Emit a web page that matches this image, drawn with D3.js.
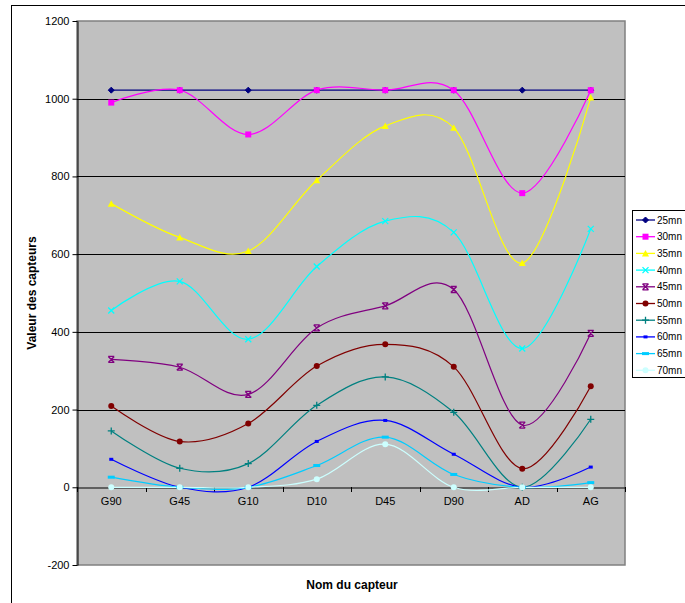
<!DOCTYPE html>
<html><head><meta charset="utf-8">
<script src="https://cdn.jsdelivr.net/npm/d3@7/dist/d3.min.js"></script>
<style>body{margin:0;background:#fff;}text{font-family:"Liberation Sans",Arial,sans-serif;}</style>
</head><body>
<svg id="c" width="685" height="603"></svg>
<script>
const categories = ["G90","G45","G10","D10","D45","D90","AD","AG"];
const seriesNames = ["25mn","30mn","35mn","40mn","45mn","50mn","55mn","60mn","65mn","70mn"];
const s25 = [1022,1022,1022,1022,1022,1022,1022,1022];
const s30 = [990,1022,908,1022,1022,1022,757,1022];
const s35 = [730,643,608,790,930,925,577,1003];
const s40 = [455,530,381,568,685,656,357,665];
const s45 = [329,309,239,410,467,509,160,396];
const s50 = [209,118,164,312,368,310,48,260];
const s55 = [145,49,61,211,284,193,0,175];
const s60 = [72,0,0,118,172,85,0,52];
const s65 = [26,0,0,56,129,33,0,12];
const s70 = [0,0,0,21,111,0,0,0];
const yTicks = [-200,0,200,400,600,800,1000,1200];
const colors = ["#000080","#FF00FF","#FFFF00","#00FFFF","#800080","#800000","#008080","#0000FF","#00CCFF","#CCFFFF"];
const markers = ["diamond","square","triangle","x","star","circle","plus","dash","dashLong","circle"];
const allSeries = [s25,s30,s35,s40,s45,s50,s55,s60,s65,s70];

const svg = d3.select("#c");
const L=77, R=625, T=21, B=565;
svg.append("rect").attr("x",11.5).attr("y",5.5).attr("width",700).attr("height",700).attr("fill","#fff").attr("stroke","#000").attr("stroke-width",1);

const x = d3.scaleBand().domain(categories).range([L,R]).padding(0);
const y = d3.scaleLinear().domain([-200,1200]).range([B,T]);

svg.append("rect").attr("x",L).attr("y",T).attr("width",R-L).attr("height",B-T).attr("fill","#C0C0C0").attr("stroke","#808080").attr("stroke-width",1.5);

svg.append("g").selectAll("line").data(yTicks.filter(v=>v>-200&&v<1200&&v!==0)).join("line")
  .attr("x1",L).attr("x2",R).attr("y1",d=>Math.round(y(d))+0.5).attr("y2",d=>Math.round(y(d))+0.5)
  .attr("stroke","#000").attr("stroke-width",1);

const ya = svg.append("g").attr("transform",`translate(${L+0.5},0)`).call(d3.axisLeft(y).tickValues(yTicks).tickFormat(d=>String(d)).tickSize(5).tickSizeOuter(0).tickPadding(3));
ya.select(".domain").attr("stroke","#000");
ya.selectAll("text").style("font-size","11px").style("font-family","Liberation Sans, Arial, sans-serif").attr("fill","#000");

const xa = svg.append("g").attr("transform",`translate(0,${Math.round(y(0))+0.5})`).call(d3.axisBottom(x).tickSize(0).tickPadding(10));
xa.select(".domain").attr("stroke","#000");
xa.selectAll("text").style("font-size","11px").style("font-family","Liberation Sans, Arial, sans-serif").attr("fill","#000");
const bounds = categories.map(c=>x(c)).concat([R]);
svg.append("g").selectAll("line").data(bounds).join("line")
  .attr("x1",d=>Math.round(d)+0.5).attr("x2",d=>Math.round(d)+0.5)
  .attr("y1",Math.round(y(0))).attr("y2",Math.round(y(0))+5).attr("stroke","#000");

const line = d3.line().x((d,i)=>x(categories[i])+x.bandwidth()/2).y(d=>y(d)).curve(d3.curveCatmullRom.alpha(0));
const gS = svg.append("g");
allSeries.forEach((s,k)=>{
  gS.append("path").attr("d",line(s)).attr("fill","none").attr("stroke",colors[k]).attr("stroke-width",1.2);
});

function drawMarker(g,type,cx,cy,col){
  const s=3;
  if(type==="diamond") g.append("path").attr("d",`M${cx},${cy-s}L${cx+s},${cy}L${cx},${cy+s}L${cx-s},${cy}Z`).attr("fill",col).attr("stroke",col);
  else if(type==="square") g.append("rect").attr("x",cx-3).attr("y",cy-3).attr("width",6).attr("height",6).attr("fill",col);
  else if(type==="triangle") g.append("path").attr("d",`M${cx},${cy-3.5}L${cx+3.5},${cy+3}L${cx-3.5},${cy+3}Z`).attr("fill",col);
  else if(type==="x") g.append("path").attr("d",`M${cx-3},${cy-3}L${cx+3},${cy+3}M${cx-3},${cy+3}L${cx+3},${cy-3}`).attr("stroke",col).attr("stroke-width",1.3);
  else if(type==="star") g.append("path").attr("d",`M${cx-3},${cy-3}L${cx+3},${cy+3}M${cx-3},${cy+3}L${cx+3},${cy-3}M${cx-3},${cy-3}L${cx+3},${cy-3}M${cx-3},${cy+3}L${cx+3},${cy+3}`).attr("stroke",col).attr("stroke-width",1.3);
  else if(type==="circle") g.append("circle").attr("cx",cx).attr("cy",cy).attr("r",3).attr("fill",col);
  else if(type==="plus") g.append("path").attr("d",`M${cx-3.5},${cy}L${cx+3.5},${cy}M${cx},${cy-3.5}L${cx},${cy+3.5}`).attr("stroke",col).attr("stroke-width",1.3);
  else if(type==="dash") g.append("rect").attr("x",cx-2).attr("y",cy-1.5).attr("width",4).attr("height",3).attr("fill",col);
  else if(type==="dashLong") g.append("rect").attr("x",cx-3.5).attr("y",cy-1.5).attr("width",7).attr("height",3).attr("fill",col);
}
const gM = svg.append("g");
allSeries.forEach((s,k)=>{
  s.forEach((v,i)=>drawMarker(gM,markers[k],x(categories[i])+x.bandwidth()/2,y(v),colors[k]));
});

svg.append("text").attr("x",352).attr("y",589).attr("text-anchor","middle").style("font-size","12px").style("font-weight","bold").text("Nom du capteur");
svg.append("text").attr("transform","translate(36,293) rotate(-90)").attr("text-anchor","middle").style("font-size","12px").style("font-weight","bold").text("Valeur des capteurs");

const lg = svg.append("g");
lg.append("rect").attr("x",632.5).attr("y",210.5).attr("width",80).attr("height",167).attr("fill","#fff").attr("stroke","#000");
seriesNames.forEach((n,k)=>{
  const yy = 220+k*16.7;
  lg.append("line").attr("x1",636).attr("x2",655).attr("y1",yy).attr("y2",yy).attr("stroke",colors[k]).attr("stroke-width",1.3);
  drawMarker(lg,markers[k],645.5,yy,colors[k]);
  lg.append("text").attr("x",657).attr("y",yy+3.5).style("font-size","10px").text(n);
});
</script>
</body></html>
